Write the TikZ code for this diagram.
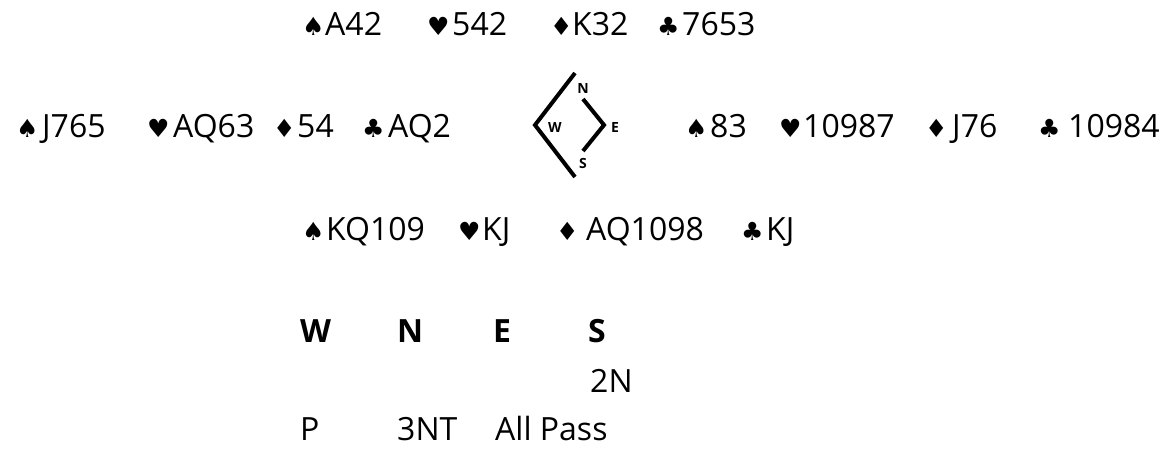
\documentclass[tikz,border=0pt]{standalone}
\usepackage{fontspec}
\setmainfont{Open Sans}
\newfontfamily\suitfont{DejaVu Sans}
\newcommand\suitsym[1]{{\suitfont\fontsize{25}{25}\selectfont #1}}
\begin{document}
\begin{tikzpicture}[x=1pt,y=-1pt,
  cards/.style={anchor=base west, inner sep=0pt, font=\fontsize{32}{32}\selectfont},
  suit/.style={anchor=base west, inner sep=0pt},
  bidhead/.style={anchor=base west, inner sep=0pt, font=\fontsize{32}{32}\selectfont\bfseries},
  bid/.style={anchor=base west, inner sep=0pt, font=\fontsize{32}{32}\selectfont},
  seat/.style={inner sep=0pt, font=\fontsize{14}{14}\selectfont\bfseries},
  stroke/.style={line width=4pt, line join=miter, line cap=butt}]
\useasboundingbox (0,0) rectangle (1165,448);
% North
\node[suit]  (nsS) at (302,35) {\suitsym{♠}};
\node[cards] (nsC) at (325,35) {A42};
\node[suit]  (nhS) at (427,35) {\suitsym{♥}};
\node[cards] (nhC) at (452,35) {542};
\node[suit]  (ndS) at (550,35) {\suitsym{♦}};
\node[cards] (ndC) at (572,35) {K32};
\node[suit]  (ncS) at (657,35) {\suitsym{♣}};
\node[cards] (ncC) at (682,35) {7653};
% West
\node[suit]  (wsS) at (16,137) {\suitsym{♠}};
\node[cards] (wsC) at (42,137) {J765};
\node[suit]  (whS) at (147,137) {\suitsym{♥}};
\node[cards] (whC) at (173,137) {AQ63};
\node[suit]  (wdS) at (273,137) {\suitsym{♦}};
\node[cards] (wdC) at (297,137) {54};
\node[suit]  (wcS) at (362,137) {\suitsym{♣}};
\node[cards] (wcC) at (388,137) {AQ2};
% East
\node[suit]  (esS) at (685,137) {\suitsym{♠}};
\node[cards] (esC) at (710,137) {83};
\node[suit]  (ehS) at (779,137) {\suitsym{♥}};
\node[cards] (ehC) at (803,137) {10987};
\node[suit]  (edS) at (925,137) {\suitsym{♦}};
\node[cards] (edC) at (952,137) {J76};
\node[suit]  (ecS) at (1038,137) {\suitsym{♣}};
\node[cards] (ecC) at (1068,137) {10984};
% South
\node[suit]  (ssS) at (302,240) {\suitsym{♠}};
\node[cards] (ssC) at (326,240) {KQ109};
\node[suit]  (shS) at (458,240) {\suitsym{♥}};
\node[cards] (shC) at (482,240) {KJ};
\node[suit]  (sdS) at (556,240) {\suitsym{♦}};
\node[cards] (sdC) at (586,240) {AQ1098};
\node[suit]  (scS) at (741,240) {\suitsym{♣}};
\node[cards] (scC) at (766,240) {KJ};
% compass
\draw[stroke] (575,73) -- (535,125) -- (575,177);
\draw[stroke] (583,99) -- (604,125) -- (583,151);
\node[seat] (cN) at (583,88) {N};
\node[seat] (cW) at (555,127) {W};
\node[seat] (cE) at (615,127) {E};
\node[seat] (cS) at (583,163) {S};
% bidding
\node[bidhead] (hW) at (300,342) {W};
\node[bidhead] (hN) at (397,342) {N};
\node[bidhead] (hE) at (493,342) {E};
\node[bidhead] (hS) at (588,342) {S};
\node[bid] (b1) at (590,392) {2N};
\node[bid] (b2) at (300,440) {P};
\node[bid] (b3) at (397,440) {3NT};
\node[bid] (b4) at (495,440) {All Pass};
\end{tikzpicture}
\end{document}
